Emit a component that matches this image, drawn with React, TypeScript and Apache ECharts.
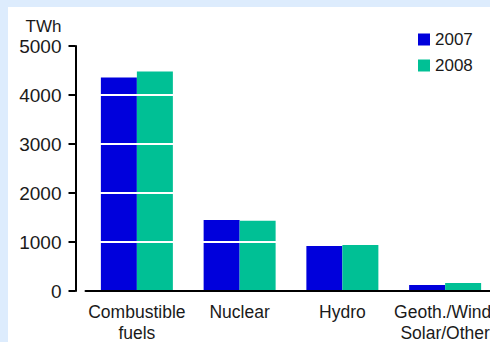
import React, { useEffect, useRef } from "react";
import * as echarts from "echarts";

// Electricity generation by source, TWh
const categories = ["Combustible\nfuels", "Nuclear", "Hydro", "Geoth./Wind/\nSolar/Other"];
const values2007 = [4355, 1450, 920, 122];
const values2008 = [4478, 1432, 940, 163];
const seriesNames = ["2007", "2008"];
const yTicks = [0, 1000, 2000, 3000, 4000, 5000];

const BLUE = "#0000dc";
const GREEN = "#00c095";
const FRAME = "#ddecfd";
const INK = "#1a1a1a";
const FONT = "'Liberation Sans', Arial, sans-serif";

export default function App() {
  const ref = useRef<HTMLDivElement>(null);

  useEffect(() => {
    if (!ref.current) return;
    const chart = echarts.init(ref.current, undefined, { renderer: "svg" });
    chart.setOption({
      animation: false,
      backgroundColor: FRAME,
      textStyle: { fontFamily: FONT, color: INK },
      graphic: [
        {
          type: "rect",
          z: -10,
          silent: true,
          shape: { x: 8, y: 7, width: 490, height: 342 },
          style: { fill: "#ffffff" },
        },
      ],
      legend: {
        orient: "vertical",
        left: 418,
        top: 31,
        icon: "rect",
        itemWidth: 12,
        itemHeight: 12,
        itemGap: 9,
        padding: 0,
        textStyle: { fontFamily: FONT, fontSize: 17, color: INK, lineHeight: 12 },
        data: seriesNames,
      },
      grid: {
        left: 85.5,
        right: -6.5,
        top: 46,
        bottom: 51,
        outerBoundsMode: "none",
        containLabel: false,
      },
      xAxis: {
        type: "category",
        data: categories,
        z: 5,
        axisLine: { lineStyle: { color: "#000", width: 2 } },
        axisTick: { alignWithLabel: true, length: 7, lineStyle: { color: "#000", width: 2 } },
        axisLabel: {
          fontFamily: FONT,
          fontSize: 17.5,
          lineHeight: 21,
          color: INK,
          margin: 10,
          interval: 0,
        },
      },
      yAxis: {
        type: "value",
        min: yTicks[0],
        max: yTicks[yTicks.length - 1],
        interval: 1000,
        offset: 10,
        z: 4,
        name: "TWh",
        nameLocation: "end",
        nameGap: 20,
        nameTextStyle: {
          fontFamily: FONT,
          fontSize: 17,
          color: INK,
          align: "right",
          verticalAlign: "middle",
          padding: [0, 14, 0, 0],
        },
        axisLine: { show: true, lineStyle: { color: "#000", width: 2 } },
        axisTick: { show: true, length: 7, lineStyle: { color: "#000", width: 2 } },
        axisLabel: {
          fontFamily: FONT,
          fontSize: 19,
          color: INK,
          margin: 14,
          formatter: (v: number) => String(v),
        },
        splitLine: { show: true, lineStyle: { color: "#ffffff", width: 2 } },
      },
      series: [
        {
          name: seriesNames[0],
          type: "bar",
          data: values2007,
          barWidth: 36,
          barGap: "0%",
          itemStyle: { color: BLUE },
        },
        {
          name: seriesNames[1],
          type: "bar",
          data: values2008,
          barWidth: 36,
          barGap: "0%",
          itemStyle: { color: GREEN },
        },
      ],
    });
    return () => chart.dispose();
  }, []);

  return (
    <div
      ref={ref}
      style={{ position: "fixed", left: 0, top: 0, width: 490, height: 342 }}
    />
  );
}
